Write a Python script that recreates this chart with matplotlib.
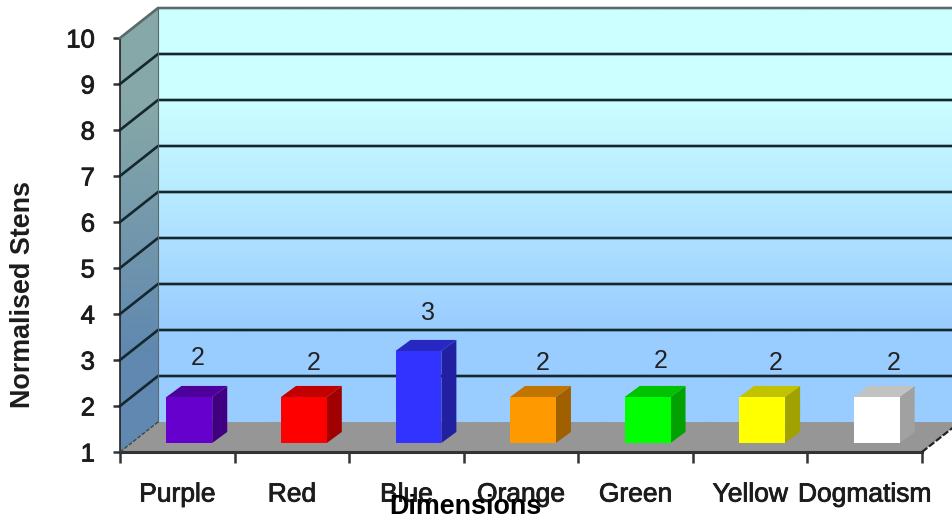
import numpy as np
import matplotlib
matplotlib.use('Agg')
import matplotlib.pyplot as plt
from matplotlib.colors import LinearSegmentedColormap, to_rgb
from matplotlib.patches import Polygon
import matplotlib.patheffects as pe

# Data
categories = ['Purple', 'Red', 'Blue', 'Orange', 'Green', 'Yellow', 'Dogmatism']
values = [2, 2, 3, 2, 2, 2, 2]
bar_colors = ['#6600CC', '#FF0000', '#3333FF', '#FF9900', '#00FF00', '#FFFF00', '#FFFFFF']
y_ticks = [1, 2, 3, 4, 5, 6, 7, 8, 9, 10]

# depth of the fake 3D box, in data units
wall_dx, wall_dy = 0.332, 0.652
bar_off_x, bar_off_y = 0.105, 0.196
bar_dx, bar_dy = 0.131, 0.24
bar_width = 0.40
ink = '#1c1c1c'

plt.rcParams['font.family'] = ['Liberation Sans', 'DejaVu Sans']
fig = plt.figure(figsize=(9.52, 5.14), dpi=100)
ax = fig.add_axes([120 / 952, (514 - 452) / 514, 802 / 952, 414 / 514])
ymin, ymax = y_ticks[0], y_ticks[-1]
n = len(categories)


def gradient(corners, stops, extent, z):
    cmap = LinearSegmentedColormap.from_list('w', stops)
    im = ax.imshow(np.linspace(0, 1, 256).reshape(-1, 1), cmap=cmap, extent=extent,
                   aspect='auto', origin='upper', zorder=z)
    clip = Polygon(corners, closed=True, transform=ax.transData, fill=False, edgecolor='none')
    ax.add_patch(clip)
    clip.set_clip_on(False)
    im.set_clip_path(clip)
    # the walls stick out of the axes box, so the image may not be cut to it
    im.set_clip_box(fig.bbox)


# back wall and side wall
back_y0, back_y1 = ymin + wall_dy, ymax + wall_dy
gradient([(wall_dx, back_y0), (n + wall_dx, back_y0), (n + wall_dx, back_y1), (wall_dx, back_y1)],
         [(0, '#CCFFFF'), (0.22, '#CCFFFF'), (0.78, '#99CCFF'), (1, '#99CCFF')],
         (wall_dx, n + wall_dx, back_y0, back_y1), 1)
gradient([(0, ymin), (wall_dx, back_y0), (wall_dx, back_y1), (0, ymax)],
         [(0, '#86A8A8'), (0.22, '#86A8A8'), (0.78, '#6088B0'), (1, '#6088B0')],
         (0, wall_dx, ymin, back_y1), 1)
ax.add_patch(Polygon([(0, ymin), (n, ymin), (n + wall_dx, back_y0), (wall_dx, back_y0)],
                     facecolor='#969696', edgecolor='none', zorder=2, clip_on=False))

# gridlines on the walls
for y in y_ticks[1:]:
    grid_col = '#14262e' if y < ymax else '#5a6a6a'
    ax.plot([0, wall_dx, n + wall_dx], [y, y + wall_dy, y + wall_dy], color=grid_col, lw=1.9,
            zorder=3, clip_on=False, solid_joinstyle='miter')
ax.plot([wall_dx, wall_dx], [back_y0, back_y1], color='#5a6a6a', lw=0.8, zorder=3, clip_on=False)
ax.plot([0, wall_dx], [ymin, back_y0], color='#3a4a4a', lw=1.0, zorder=3, clip_on=False, ls=(0, (3, 1)))
ax.plot([n, n + wall_dx], [ymin, back_y0], color='#222222', lw=1.6, zorder=3, clip_on=False, ls=(0, (3, 1)))

# bars, the front face comes from ax.bar and the other two faces are added on it
xpos = np.arange(n) + 0.5 + bar_off_x
base = ymin + bar_off_y
ax.bar(xpos, [v - ymin for v in values], width=bar_width, bottom=base, color=bar_colors,
       zorder=6, clip_on=False)
for x, v, c in zip(xpos, values, bar_colors):
    rgb = np.array(to_rgb(c))
    top = v + bar_off_y
    left, right = x - bar_width / 2, x + bar_width / 2
    ax.add_patch(Polygon([(right, base), (right + bar_dx, base + bar_dy), (right + bar_dx, top + bar_dy), (right, top)],
                         facecolor=rgb * 0.63, edgecolor='none', zorder=5, clip_on=False))
    ax.add_patch(Polygon([(left, top), (right, top), (right + bar_dx, top + bar_dy), (left + bar_dx, top + bar_dy)],
                         facecolor=rgb * 0.76, edgecolor='none', zorder=5, clip_on=False))

# value labels, each one
label_x = [0.68, 1.69, 2.69, 3.69, 4.72, 5.72, 6.75]
label_y = [3.04, 2.93, 4.02, 2.93, 2.97, 2.93, 2.93]
for x, y, v in zip(label_x, label_y, values):
    ax.text(x, y, str(v), ha='center', va='center', fontsize=18, color='#222222', zorder=7)

# axes
ax.set_xlim(0, n)
ax.set_ylim(ymin, ymax)
for s in ['top', 'right']:
    ax.spines[s].set_visible(False)
ax.spines['left'].set_color('#222222')
ax.spines['left'].set_linewidth(1.2)
ax.spines['bottom'].set_color('#333333')
ax.spines['bottom'].set_linewidth(2.2)
ax.patch.set_visible(False)

ax.set_yticks(y_ticks)
ax.set_yticklabels([str(t) for t in y_ticks])
ax.tick_params(axis='y', length=5, width=1.8, color='#333333', pad=13, labelsize=18.5, labelcolor=ink)
ax.set_xticks(np.arange(n + 1))
ax.set_xticklabels([])
ax.tick_params(axis='x', which='major', length=8, width=1.8, color='#333333')
ax.set_xticks(np.arange(n) + 0.5, minor=True)
ax.set_xticklabels(categories, minor=True)
ax.tick_params(axis='x', which='minor', length=0, pad=22, labelsize=19, labelcolor=ink)

stroke = [pe.withStroke(linewidth=0.6, foreground=ink)]
for t in ax.get_yticklabels() + ax.get_xticklabels(minor=True):
    t.set_path_effects(stroke)

fig.text(23 / 952, 1 - 295 / 514, 'Normalised Stens', rotation=90, ha='center', va='center',
         fontsize=19.4, fontweight='bold', color=ink)
fig.text(465 / 952, 1 - 507 / 514, 'Dimensions', ha='center', va='center',
         fontsize=19.4, fontweight='bold', color='#000000')

fig.savefig('out.png', dpi=100)
